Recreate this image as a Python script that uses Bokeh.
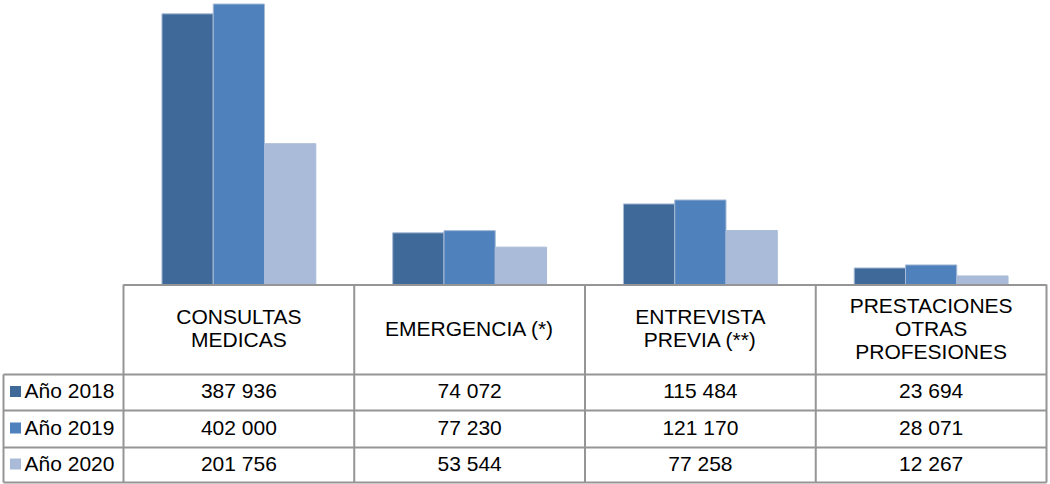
from bokeh.plotting import figure
from bokeh.models import ColumnDataSource, Range1d
from bokeh.transform import dodge
from bokeh.core.properties import value
from bokeh.embed import file_html
from bokeh.resources import INLINE

# ---- data ----
categories = ["CONSULTAS MEDICAS", "EMERGENCIA (*)", "ENTREVISTA PREVIA (**)",
              "PRESTACIONES OTRAS PROFESIONES"]
header_labels = ["CONSULTAS\nMEDICAS", "EMERGENCIA (*)", "ENTREVISTA\nPREVIA (**)",
                 "PRESTACIONES\nOTRAS\nPROFESIONES"]
series_names = ["Año 2018", "Año 2019", "Año 2020"]
y2018 = [387936, 74072, 115484, 23694]
y2019 = [402000, 77230, 121170, 28071]
y2020 = [201756, 53544, 77258, 12267]
series_values = [y2018, y2019, y2020]
colors = ["#3F6999", "#4F81BD", "#AABBD9"]

FONT = value("Liberation Sans")
FS = "21px"
W, H = 1050, 484
LEFT = 123            # left edge of the plot area / data columns (px)
RIGHT_EDGE = 1046     # right edge of the table (px)
BASE = 284            # baseline of the bars (px from top)
GRID = "#959595"
ncat = len(categories)
colw = (RIGHT_EDGE - LEFT) / ncat

# value scale: 402 000 -> 280.5 px
k = 402000 / 280.5

p = figure(width=W, height=H, x_range=Range1d(0, W), y_range=Range1d(H, 0),
           output_backend="svg", toolbar_location=None,
           x_axis_location=None, y_axis_location=None,
           min_border=0, min_border_left=0, min_border_right=0,
           min_border_top=0, min_border_bottom=0)
p.outline_line_color = None
p.grid.visible = False
p.background_fill_color = "white"

# category index axis and value axis for the bars
p.extra_x_ranges = {"cat": Range1d(-LEFT / colw, (W - LEFT) / colw)}
p.extra_y_ranges = {"val": Range1d(-(H - BASE) * k, BASE * k)}

src = ColumnDataSource(dict(idx=[i + 0.5 for i in range(ncat)],
                            y2018=y2018, y2019=y2019, y2020=y2020))
bw = 1 / 4.5
for i, key in enumerate(["y2018", "y2019", "y2020"]):
    p.vbar(x=dodge("idx", (i - 1) * bw), top=key, bottom=0, width=bw,
           source=src, fill_color=colors[i], line_color="#A8BBD6", line_width=1,
           x_range_name="cat", y_range_name="val")

# ---- data table ----
col_edges = [LEFT + j * colw for j in range(ncat + 1)]
col_centers = [LEFT + (j + 0.5) * colw for j in range(ncat)]
header_bottom = 374
row_edges = [374, 410, 447, 482]
row_centers = [(row_edges[j] + row_edges[j + 1]) / 2 for j in range(3)]
table_left = 3

hx0 = [LEFT] + [table_left] * len(row_edges)
hx1 = [RIGHT_EDGE] * (len(row_edges) + 1)
hy = [BASE + 0.5] + row_edges
p.segment(x0=hx0, y0=hy, x1=hx1, y1=hy, line_color=GRID, line_width=2)
vx = col_edges + [table_left]
vy0 = [BASE] * len(col_edges) + [header_bottom]
vy1 = [row_edges[-1]] * (len(col_edges) + 1)
p.segment(x0=vx, y0=vy0, x1=vx, y1=vy1, line_color=GRID, line_width=2)

p.text(x=col_centers, y=[(BASE + header_bottom) / 2 - 1.5] * ncat, text=header_labels,
       text_font=FONT, text_font_size=FS, text_align="center",
       text_baseline="middle", text_color="#000000", text_line_height=1.0)

tx, ty, tt = [], [], []
for r, vals in enumerate(series_values):
    for c, v in enumerate(vals):
        tx.append(col_centers[c])
        ty.append(row_centers[r] - 2)
        tt.append(f"{v:,}".replace(",", " "))
p.text(x=tx, y=ty, text=tt, text_font=FONT, text_font_size=FS,
       text_align="center", text_baseline="middle", text_color="#000000")

p.rect(x=[15] * 3, y=[rc - 1 for rc in row_centers], width=11, height=11,
       fill_color=colors, line_color=None)
p.text(x=[24] * 3, y=[rc - 2 for rc in row_centers], text=series_names, text_font=FONT,
       text_font_size=FS, text_align="left", text_baseline="middle",
       text_color="#000000")

open("out.html", "w").write(file_html(p, INLINE))
